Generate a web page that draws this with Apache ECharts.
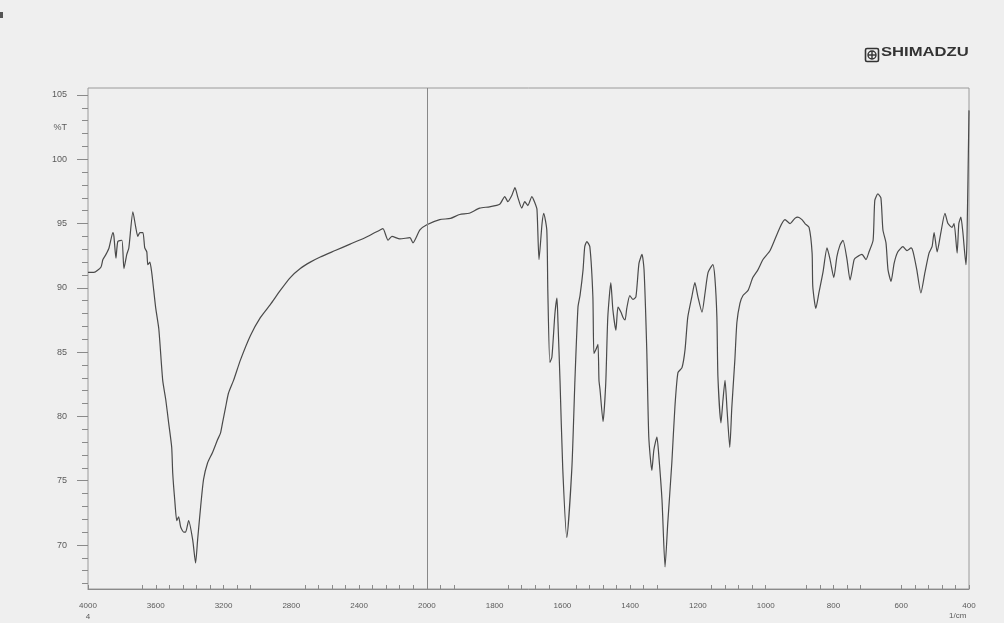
<!DOCTYPE html>
<html><head><meta charset="utf-8">
<script src="https://cdn.jsdelivr.net/npm/echarts@6/dist/echarts.min.js"></script>
<style>html,body{margin:0;padding:0;background:#efefef}#c{width:1004px;height:623px}</style>
</head><body><div id="c"></div>
<script>
// wavenumber (1/cm) and %T
const wavenumbers = [4000,3965,3924,3912,3894,3876,3853,3847,3835,3824,3800,3788,3771,3759,3735,3718,3706,3694,3676,3665,3653,3647,3635,3624,3612,3600,3582,3559,3541,3524,3506,3500,3488,3476,3465,3453,3435,3424,3406,3382,3365,3353,3335,3318,3294,3265,3235,3218,3206,3188,3171,3141,3100,3041,2982,2924,2865,2806,2747,2688,2629,2541,2453,2365,2306,2276,2259,2229,2206,2159,2100,2082,2041,2000,1962,1930,1903,1875,1844,1815,1785,1770,1761,1749,1740,1731,1720,1711,1702,1690,1681,1675,1669,1660,1655,1646,1643,1637,1631,1622,1616,1613,1607,1599,1587,1572,1563,1554,1548,1539,1534,1528,1519,1510,1507,1501,1495,1492,1489,1480,1472,1466,1457,1451,1442,1436,1427,1421,1415,1410,1401,1392,1383,1374,1365,1359,1351,1345,1336,1330,1321,1315,1306,1297,1289,1277,1268,1259,1247,1238,1230,1218,1209,1200,1188,1179,1170,1156,1150,1144,1141,1132,1126,1120,1114,1106,1100,1091,1085,1076,1067,1052,1038,1023,1008,987,958,943,928,914,905,893,884,872,863,861,852,843,831,819,810,799,790,781,772,760,751,739,731,716,704,695,683,678,669,660,654,645,639,630,621,610,595,583,571,565,554,542,530,518,509,503,494,483,471,462,450,444,435,430,424,418,409,406,400];
const transmittance = [91.2,91.2,91.6,92.2,92.6,93.1,94.3,94.0,92.3,93.6,93.7,91.5,92.6,93.1,95.9,94.7,94.0,94.3,94.3,93.1,92.8,91.8,92.0,91.2,89.8,88.4,86.8,82.8,81.3,79.5,77.6,75.6,73.5,71.9,72.2,71.4,71.0,71.0,71.9,70.4,68.6,70.4,73.0,75.1,76.4,77.2,78.2,78.7,79.5,80.7,81.8,82.8,84.4,86.3,87.7,88.7,89.8,90.8,91.5,92.0,92.4,92.9,93.4,93.9,94.3,94.5,94.6,93.7,94.0,93.8,93.9,93.5,94.5,94.9,95.3,95.4,95.7,95.8,96.2,96.3,96.5,97.1,96.7,97.2,97.8,97.0,96.2,96.7,96.4,97.1,96.6,96.1,92.2,95.0,95.8,94.5,89.8,84.2,84.6,88.0,89.2,87.3,82.8,76.0,70.6,76.0,82.8,88.5,89.4,91.4,93.2,93.6,93.2,89.3,84.9,85.2,85.6,82.8,82.1,79.6,82.6,87.7,90.4,88.3,86.7,88.5,88.1,87.7,87.5,88.4,89.4,89.1,89.3,91.9,92.6,91.4,85.2,78.4,75.8,77.4,78.4,76.8,73.5,68.3,71.7,76.4,80.7,83.4,83.8,85.2,87.7,89.3,90.4,89.3,88.1,89.6,91.2,91.8,90.8,87.7,83.1,79.5,81.3,82.8,80.5,77.6,80.7,84.4,87.3,88.8,89.4,89.8,90.8,91.4,92.2,92.9,94.7,95.3,95.0,95.4,95.5,95.3,95.0,94.7,92.7,90.1,88.4,89.6,91.2,93.1,92.2,90.8,92.4,93.3,93.7,92.2,90.6,92.2,92.4,92.6,92.2,92.8,93.7,96.8,97.3,97.0,94.5,93.5,91.4,90.5,91.9,92.8,93.2,92.9,93.1,92.8,91.4,89.6,91.2,92.7,93.2,94.3,92.8,94.3,95.8,95.0,94.7,95.0,92.7,95.0,95.5,94.3,91.8,93.7,103.8];
const xTickLabels = [4000,3600,3200,2800,2400,2000,1800,1600,1400,1200,1000,800,600,400];
const yTickLabels = [70,75,80,85,90,95,100,105];
const yUnitLabel = '%T';
const xUnitLabel = '1/cm';

// IR chart scale: 4000-2000 compressed by half
function toX(w){ return w >= 2000 ? (4000 - w) / 2 : 1000 + (2000 - w); }
function fromX(v){ return v <= 1000 ? 4000 - 2 * v : 2000 - (v - 1000); }

const seriesData = wavenumbers.map((w, i) => [toX(w), transmittance[i]]);
const yMin = 66.58, yMax = 105.54;
const yMinorTicks = [];
for (let t = 67; t <= 105; t++) if (t % 5 !== 0) yMinorTicks.push(t);
const skipK = [1,2,3,13,14,15,28,29,30,35,43,44,45,51,52,58,59];
const xTicks = [];
for (let k = 0; k <= 65; k++) if (skipK.indexOf(k) < 0) xTicks.push(k * 40);

const labelFont = 'Liberation Sans, Arial, sans-serif';
const chart = echarts.init(document.getElementById('c'), null, {renderer: 'canvas'});
chart.setOption({
  backgroundColor: '#efefef',
  animation: false,
  grid: {left: 88, right: 35, top: 88, bottom: 34, show: true, borderColor: '#9a9a9a', borderWidth: 1},
  xAxis: {
    type: 'value', min: 0, max: 2600,
    axisLine: {show: true, lineStyle: {color: '#8a8a8a', width: 1}},
    axisTick: {show: true, inside: true, length: 4, customValues: xTicks, lineStyle: {color: '#8a8a8a'}},
    axisLabel: {
      customValues: xTickLabels.map(toX), margin: 11, fontSize: 8, lineHeight: 11,
      color: '#5a5a5a', fontFamily: labelFont,
      formatter: v => { const w = Math.round(fromX(v)); return w === 4000 ? '4000\n4' : String(w); }
    },
    splitLine: {show: false}
  },
  yAxis: [{
    type: 'value', min: yMin, max: yMax, position: 'left', offset: 0,
    axisLine: {show: false},
    axisTick: {show: true, length: 11, customValues: yTickLabels, lineStyle: {color: '#8a8a8a'}},
    axisLabel: {
      customValues: yTickLabels.concat([102.5]), margin: 21, fontSize: 9,
      color: '#5a5a5a', fontFamily: labelFont,
      formatter: v => v === 102.5 ? yUnitLabel : String(v)
    },
    splitLine: {show: false}
  }, {
    type: 'value', min: yMin, max: yMax, position: 'left', offset: 0,
    axisLine: {show: false},
    axisTick: {show: true, length: 6, customValues: yMinorTicks, lineStyle: {color: '#8a8a8a'}},
    axisLabel: {show: false},
    splitLine: {show: false}
  }],
  series: [{
    type: 'line', data: seriesData, showSymbol: false, smooth: 0.2,
    lineStyle: {color: '#4a4a4a', width: 1.2},
    markLine: {
      silent: true, symbol: 'none', label: {show: false},
      lineStyle: {color: '#888', width: 1, type: 'solid'},
      data: [{xAxis: toX(2000)}]
    }
  }],
  graphic: [
    {type: 'rect', left: 0, top: 12, shape: {width: 3, height: 6}, style: {fill: '#555'}},
    {type: 'text', left: 949, top: 612, style: {text: xUnitLabel, fontSize: 8, fill: '#5a5a5a', fontFamily: labelFont}},
    {type: 'group', left: 863, top: 46, children: [
      {type: 'rect', shape: {x: 0, y: 0, width: 13, height: 13, r: 1.5}, style: {fill: 'none', stroke: '#333', lineWidth: 1.6}},
      {type: 'circle', shape: {cx: 6.5, cy: 6.5, r: 4}, style: {fill: 'none', stroke: '#333', lineWidth: 1.4}},
      {type: 'line', shape: {x1: 6.5, y1: 2.5, x2: 6.5, y2: 10.5}, style: {stroke: '#333', lineWidth: 1.4}},
      {type: 'line', shape: {x1: 2.5, y1: 6.5, x2: 10.5, y2: 6.5}, style: {stroke: '#333', lineWidth: 1.4}}
    ]},
    {type: 'text', left: 881, top: 46, scaleX: 1.33, style: {text: 'SHIMADZU', fontSize: 12.5, fontWeight: 'bold', fill: '#333', fontFamily: 'Liberation Sans, Arial, sans-serif'}}
  ]
});
</script></body></html>
